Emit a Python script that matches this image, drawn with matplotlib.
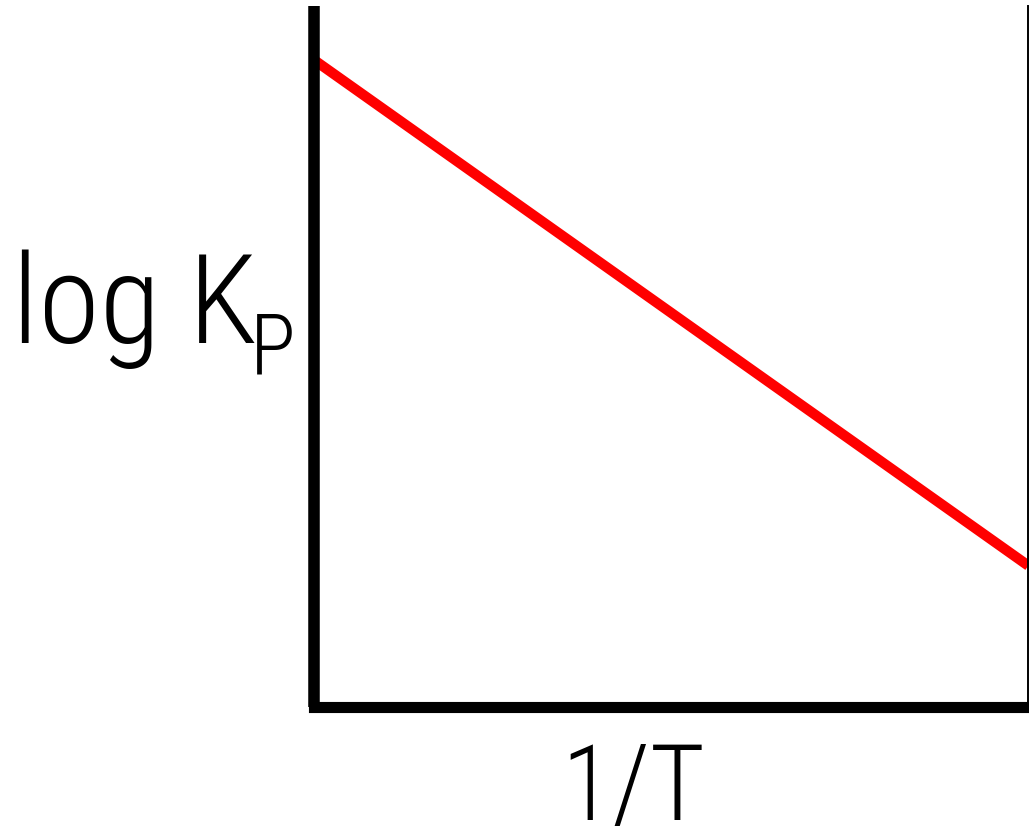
import matplotlib
matplotlib.use("Agg")
import matplotlib.pyplot as plt

# van 't Hoff plot: log Kp falls linearly with 1/T
inv_T = [0.0, 1.0]
log_Kp = [0.923, 0.201]

W, H, DPI = 1029, 829, 100
fig = plt.figure(figsize=(W / DPI, H / DPI), dpi=DPI)

left_px, right_px = 314.0, 1028.3
bottom_px, top_px = 707.5, 7.0
ax = fig.add_axes([left_px / W, 1 - bottom_px / H,
                   (right_px - left_px) / W, (bottom_px - top_px) / H])

ax.plot(inv_T, log_Kp, color="#ff0000", linewidth=7.4,
        solid_capstyle="butt", clip_on=True)
ax.set_xlim(0, 1)
ax.set_ylim(0, 1)

ax.spines["top"].set_visible(False)
ax.spines["left"].set_linewidth(8.3)
ax.spines["bottom"].set_linewidth(8.0)
ax.spines["right"].set_linewidth(1.4)
ax.spines["left"].set_capstyle("butt")
for s in ("left", "bottom", "right"):
    ax.spines[s].set_color("black")
ax.set_xticks([])
ax.set_yticks([])

font = ["Roboto Condensed", "DejaVu Sans"]
fig.text(12 / W, 1 - 343 / H, "log K", fontsize=90, family=font,
         fontweight="light", ha="left", va="baseline", color="black")
fig.text(250 / W, 1 - 375 / H, "P", fontsize=61, family=font,
         fontweight="light", ha="left", va="baseline", color="black")
fig.text(633 / W, 1 - 820 / H, "1/T", fontsize=76, family=font,
         fontweight="light", ha="center", va="baseline", color="black")

fig.savefig("out.png", dpi=DPI)
